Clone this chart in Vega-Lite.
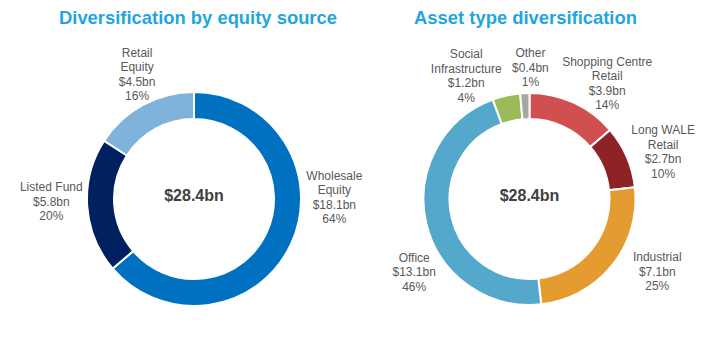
{
  "$schema": "https://vega.github.io/schema/vega-lite/v6.json",
  "padding": {"left": 0, "top": 8, "right": 0, "bottom": 0},
  "spacing": 0,
  "bounds": "flush",
  "config": {
    "view": {"stroke": null},
    "font": "Liberation Sans",
    "title": {"font": "Liberation Sans", "fontSize": 18.4, "fontWeight": "bold", "color": "#1FA6E0", "anchor": "middle", "offset": 6},
    "text": {"lineBreak": "\n", "lineHeight": 14.5, "fontSize": 12, "color": "#595959", "baseline": "middle", "align": "center", "radius": 138}
  },
  "resolve": {"scale": {"color": "independent", "theta": "independent"}},
  "hconcat": [
    {
      "width": 388,
      "height": 332,
      "title": {"text": "Diversification by equity source", "dx": 4},
      "data": {"values": [
        {"segment": "Wholesale Equity", "label": "Wholesale\nEquity", "value": 18.1, "pct": 64},
        {"segment": "Listed Fund", "label": "Listed Fund", "value": 5.8, "pct": 20},
        {"segment": "Retail Equity", "label": "Retail\nEquity", "value": 4.5, "pct": 16}
      ]},
      "transform": [
        {"window": [{"op": "row_number", "as": "idx"}]},
        {"stack": "value", "groupby": [], "sort": [{"field": "idx"}], "as": ["s0", "s1"]},
        {"joinaggregate": [{"op": "sum", "field": "value", "as": "total"}]},
        {"calculate": "(datum.s0 + datum.s1) / 2 / datum.total", "as": "frac"},
        {"calculate": "datum.label + '\\n$' + format(datum.value, '.1f') + 'bn\\n' + datum.pct + '%'", "as": "txt"}
      ],
      "resolve": {"scale": {"theta": "independent"}},
      "layer": [
        {
          "mark": {"type": "arc", "outerRadius": 107, "innerRadius": 80, "stroke": "#ffffff", "strokeWidth": 2},
          "encoding": {
            "theta": {"field": "value", "type": "quantitative", "stack": true},
            "order": {"field": "idx", "type": "quantitative"},
            "color": {"field": "segment", "type": "nominal", "legend": null,
              "scale": {"domain": ["Wholesale Equity", "Listed Fund", "Retail Equity"], "range": ["#0070C0", "#002060", "#7FB3DB"]}}
          }
        },
        {
          "transform": [{"filter": "datum.segment === 'Wholesale Equity'"}],
          "mark": {"type": "text", "dx": 15, "dy": -81},
          "encoding": {"theta": {"field": "frac", "type": "quantitative", "stack": null, "scale": {"domain": [0, 1]}}, "text": {"field": "txt"}}
        },
        {
          "transform": [{"filter": "datum.segment === 'Listed Fund'"}],
          "mark": {"type": "text", "dx": -5, "dy": -21},
          "encoding": {"theta": {"field": "frac", "type": "quantitative", "stack": null, "scale": {"domain": [0, 1]}}, "text": {"field": "txt"}}
        },
        {
          "transform": [{"filter": "datum.segment === 'Retail Equity'"}],
          "mark": {"type": "text", "dx": 9, "dy": -25},
          "encoding": {"theta": {"field": "frac", "type": "quantitative", "stack": null, "scale": {"domain": [0, 1]}}, "text": {"field": "txt"}}
        },
        {
          "transform": [
            {"aggregate": [{"op": "sum", "field": "value", "as": "sum"}]},
            {"calculate": "'$' + format(datum.sum, '.1f') + 'bn'", "as": "t"}
          ],
          "mark": {"type": "text", "fontSize": 16, "fontWeight": "bold", "color": "#404040", "dy": -3, "radius": 0},
          "encoding": {"text": {"field": "t", "type": "nominal"}}
        }
      ]
    },
    {
      "width": 283,
      "height": 332,
      "title": {"text": "Asset type diversification", "dx": -4},
      "data": {"values": [
        {"segment": "Shopping Centre Retail", "label": "Shopping Centre\nRetail", "value": 3.9, "pct": 14},
        {"segment": "Long WALE Retail", "label": "Long WALE\nRetail", "value": 2.7, "pct": 10},
        {"segment": "Industrial", "label": "Industrial", "value": 7.1, "pct": 25},
        {"segment": "Office", "label": "Office", "value": 13.1, "pct": 46},
        {"segment": "Social Infrastructure", "label": "Social\nInfrastructure", "value": 1.2, "pct": 4},
        {"segment": "Other", "label": "Other", "value": 0.4, "pct": 1}
      ]},
      "transform": [
        {"window": [{"op": "row_number", "as": "idx"}]},
        {"stack": "value", "groupby": [], "sort": [{"field": "idx"}], "as": ["s0", "s1"]},
        {"joinaggregate": [{"op": "sum", "field": "value", "as": "total"}]},
        {"calculate": "(datum.s0 + datum.s1) / 2 / datum.total", "as": "frac"},
        {"calculate": "datum.label + '\\n$' + format(datum.value, '.1f') + 'bn\\n' + datum.pct + '%'", "as": "txt"}
      ],
      "resolve": {"scale": {"theta": "independent"}},
      "layer": [
        {
          "mark": {"type": "arc", "outerRadius": 106, "innerRadius": 80, "stroke": "#ffffff", "strokeWidth": 2},
          "encoding": {
            "theta": {"field": "value", "type": "quantitative", "stack": true},
            "order": {"field": "idx", "type": "quantitative"},
            "color": {"field": "segment", "type": "nominal", "legend": null,
              "scale": {"domain": ["Shopping Centre Retail", "Long WALE Retail", "Industrial", "Office", "Social Infrastructure", "Other"],
                        "range": ["#D14F4F", "#8E2327", "#E49C30", "#53A8CB", "#9CBB58", "#A6A6A6"]}}
          }
        },
        {
          "transform": [{"filter": "datum.segment === 'Shopping Centre Retail'"}],
          "mark": {"type": "text", "dx": 20, "dy": -12},
          "encoding": {"theta": {"field": "frac", "type": "quantitative", "stack": null, "scale": {"domain": [0, 1]}}, "text": {"field": "txt"}}
        },
        {
          "transform": [{"filter": "datum.segment === 'Long WALE Retail'"}],
          "mark": {"type": "text", "dx": 7, "dy": -14},
          "encoding": {"theta": {"field": "frac", "type": "quantitative", "stack": null, "scale": {"domain": [0, 1]}}, "text": {"field": "txt"}}
        },
        {
          "transform": [{"filter": "datum.segment === 'Industrial'"}],
          "mark": {"type": "text", "dx": 20, "dy": -28},
          "encoding": {"theta": {"field": "frac", "type": "quantitative", "stack": null, "scale": {"domain": [0, 1]}}, "text": {"field": "txt"}}
        },
        {
          "transform": [{"filter": "datum.segment === 'Office'"}],
          "mark": {"type": "text", "dx": 19, "dy": 27},
          "encoding": {"theta": {"field": "frac", "type": "quantitative", "stack": null, "scale": {"domain": [0, 1]}}, "text": {"field": "txt"}}
        },
        {
          "transform": [{"filter": "datum.segment === 'Social Infrastructure'"}],
          "mark": {"type": "text", "dx": -33, "dy": -10},
          "encoding": {"theta": {"field": "frac", "type": "quantitative", "stack": null, "scale": {"domain": [0, 1]}}, "text": {"field": "txt"}}
        },
        {
          "transform": [{"filter": "datum.segment === 'Other'"}],
          "mark": {"type": "text", "dx": 7, "dy": -8},
          "encoding": {"theta": {"field": "frac", "type": "quantitative", "stack": null, "scale": {"domain": [0, 1]}}, "text": {"field": "txt"}}
        },
        {
          "transform": [
            {"aggregate": [{"op": "sum", "field": "value", "as": "sum"}]},
            {"calculate": "'$' + format(datum.sum, '.1f') + 'bn'", "as": "t"}
          ],
          "mark": {"type": "text", "fontSize": 16, "fontWeight": "bold", "color": "#404040", "dy": -3, "radius": 0},
          "encoding": {"text": {"field": "t", "type": "nominal"}}
        }
      ]
    }
  ]
}
